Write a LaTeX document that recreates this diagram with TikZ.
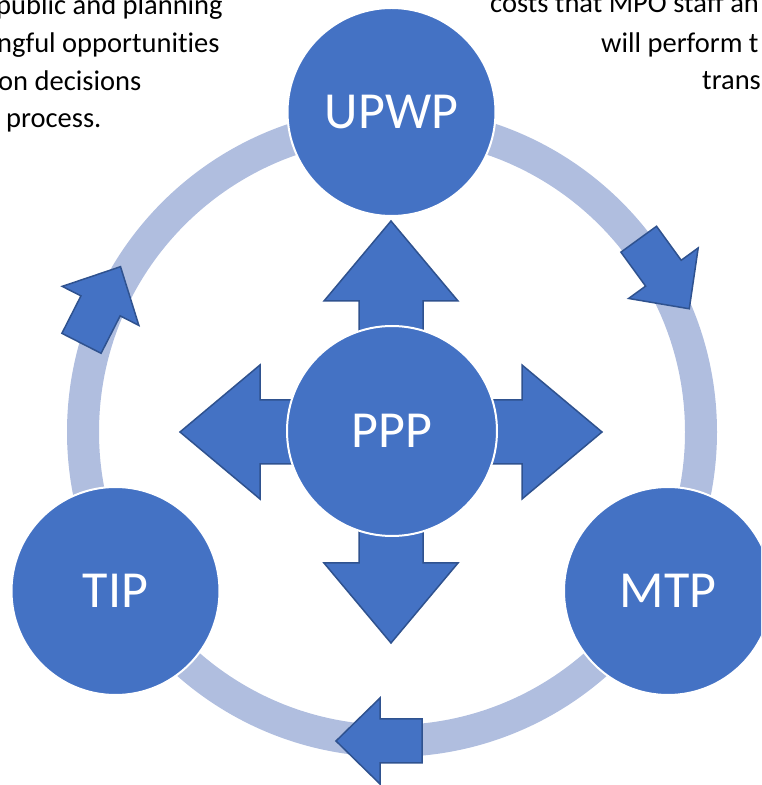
\documentclass[tikz,border=0pt]{standalone}
\usepackage{fontspec}
\setmainfont{Carlito}[Ligatures=CommonOff]
\definecolor{nodeblue}{HTML}{4472C4}
\definecolor{edgeblue}{HTML}{2F528F}
\definecolor{ringblue}{HTML}{B0BEDF}
\begin{document}
\begin{tikzpicture}[x=1pt,y=1pt,
  bubble/.style={circle, fill=nodeblue, draw=white, line width=2pt, minimum size=208pt, inner sep=0pt, text=white, font=\fontsize{52}{60}\selectfont},
  blockarrow/.style={fill=nodeblue, draw=edgeblue, line width=1.5pt, line join=miter},
  note/.style={font=\fontsize{28.5}{37.7}\selectfont, text=black, inner sep=0pt, anchor=base west}]
\useasboundingbox (0,0) rectangle (761,785);
\clip (0,0) rectangle (761,785);
% ring
\coordinate (ringc) at (392,353);
\draw[ringblue, line width=32pt] (ringc) circle[radius=309];
% ring arrows
\draw[blockarrow, shift={(379,44)}, rotate=180] (-43,22) -- (-1,22) -- (-1,43) -- (43,0) -- (-1,-43) -- (-1,-22) -- (-43,-22) -- cycle;
\draw[blockarrow, shift={(664,511)}, rotate=-54] (-43,22) -- (-1,22) -- (-1,43) -- (43,0) -- (-1,-43) -- (-1,-22) -- (-43,-22) -- cycle;
\draw[blockarrow, shift={(101,480)}, rotate=63] (-43,22) -- (-1,22) -- (-1,43) -- (43,0) -- (-1,-43) -- (-1,-22) -- (-43,-22) -- cycle;
% outer nodes
\node[bubble] (upwp) at (391.5,673) {UPWP};
\node[bubble] (tip) at (115.5,194) {TIP};
\node[bubble] (mtp) at (668,194) {MTP};
% cross arrow
\draw[blockarrow, shift={(391,353)}]
  (0,211) -- (67,131) -- (32,131) -- (32,32) -- (131,32) -- (131,67) -- (211,0) -- (131,-67) -- (131,-32) -- (32,-32)
  -- (32,-131) -- (67,-131) -- (0,-211) -- (-67,-131) -- (-32,-131) -- (-32,-32) -- (-131,-32) -- (-131,-67)
  -- (-211,0) -- (-131,67) -- (-131,32) -- (-32,32) -- (-32,131) -- (-67,131) -- cycle;
\node[bubble, minimum size=210pt] (ppp) at (392,354) {PPP};
% cropped notes
\node[note] (l1) at (-4,770) {public and planning};
\node[note] (l2) at (-3,732) {ngful opportunities};
\node[note] (l3) at (-2,694) {on decisions};
\node[note] (l4) at (6,657) {process.};
\node[note] (r1) at (490,772) {costs that MPO staff an};
\node[note] (r2) at (601,732) {will perform t};
\node[note] (r3) at (702,695) {trans};
\end{tikzpicture}
\end{document}
